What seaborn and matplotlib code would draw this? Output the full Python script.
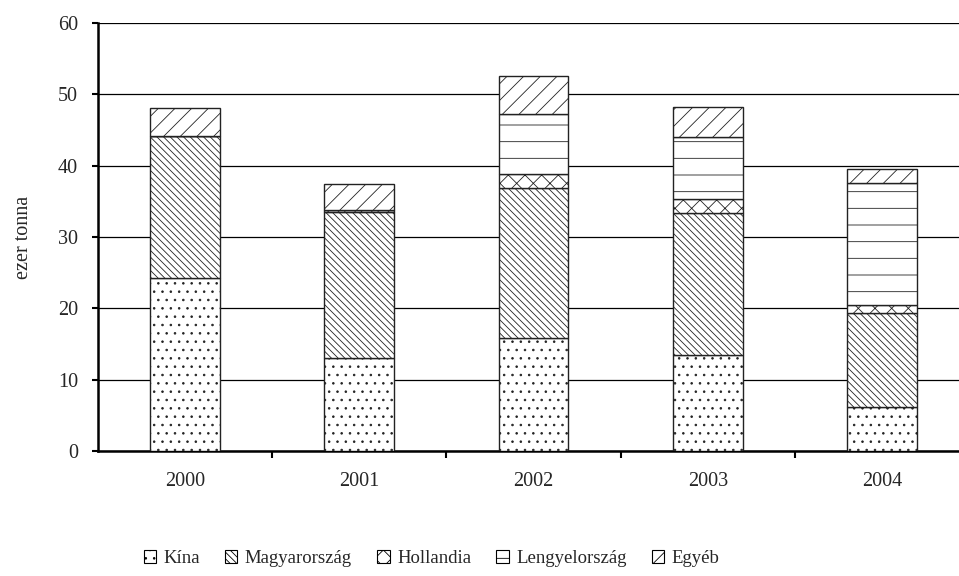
import matplotlib
matplotlib.use("Agg")
import numpy as np
import pandas as pd
import seaborn as sns
import matplotlib.pyplot as plt
from matplotlib.patches import Patch

years = ['2000', '2001', '2002', '2003', '2004']
kina = [24.3, 13.0, 15.8, 13.5, 6.1]
magyarorszag = [19.8, 20.5, 21.1, 19.9, 13.2]
hollandia = [0.0, 0.3, 1.9, 1.9, 1.2]
lengyelorszag = [0.0, 0.0, 8.4, 8.7, 17.1]
egyeb = [4.0, 3.6, 5.4, 4.2, 1.9]

series = ['Kína', 'Magyarország', 'Hollandia', 'Lengyelország', 'Egyéb']
values = [kina, magyarorszag, hollandia, lengyelorszag, egyeb]
hatches = ['..', '\\\\\\\\\\', 'xx', '-', '//']

sns.set_style('white')
plt.rcParams['font.family'] = ['Liberation Serif', 'DejaVu Serif']
plt.rcParams['hatch.linewidth'] = 0.6

fig = plt.figure(figsize=(9.59, 5.76), dpi=100)
ax = fig.add_axes([98/959, 125/576, 871/959, 428/576])

bottom = np.zeros(len(years))
for name, vals, h in zip(series, values, hatches):
    df = pd.DataFrame({'year': years, 'val': vals})
    sns.barplot(data=df, x='year', y='val', color='white', hatch=h,
                edgecolor='#222222', linewidth=1.0, width=0.4, saturation=1,
                errorbar=None, bottom=bottom, ax=ax, zorder=3)
    bottom = bottom + np.array(vals)

ax.set_ylim(0, 60)
ax.set_yticks(range(0, 61, 10))
ax.yaxis.grid(True, color='black', linewidth=0.9, zorder=0)
ax.set_axisbelow(True)
ax.set_xlim(-0.5, 4.5)

# year labels at bar centres, tick marks between categories
ax.set_xticks([0.5, 1.5, 2.5, 3.5, 4.5])
ax.set_xticklabels([])
ax.set_xticks(range(5), minor=True)
ax.set_xticklabels(years, minor=True)
ax.tick_params(axis='x', which='major', direction='out', length=5, width=1.5,
               bottom=True, color='black')
ax.tick_params(axis='x', which='minor', length=0, pad=15, labelsize=14.5)
ax.tick_params(axis='y', direction='out', length=4.5, width=1.5, left=True,
               color='black', labelsize=14.5, pad=10)

for s in ['top', 'right']:
    ax.spines[s].set_visible(False)
for s in ['left', 'bottom']:
    ax.spines[s].set_color('black')
    ax.spines[s].set_linewidth(1.8)

ax.set_xlabel('')
ax.set_ylabel('ezer tonna', fontsize=14.5, labelpad=18)

handles = [Patch(facecolor='white', edgecolor='black', hatch=h, linewidth=0.8)
           for h in hatches]
fig.legend(handles, series, loc='center', bbox_to_anchor=(0.45, 0.03),
           ncol=5, frameon=False, fontsize=13.5, handlelength=0.65,
           handleheight=0.65, handletextpad=0.4, columnspacing=1.35)

fig.savefig('out.png', dpi=100)
